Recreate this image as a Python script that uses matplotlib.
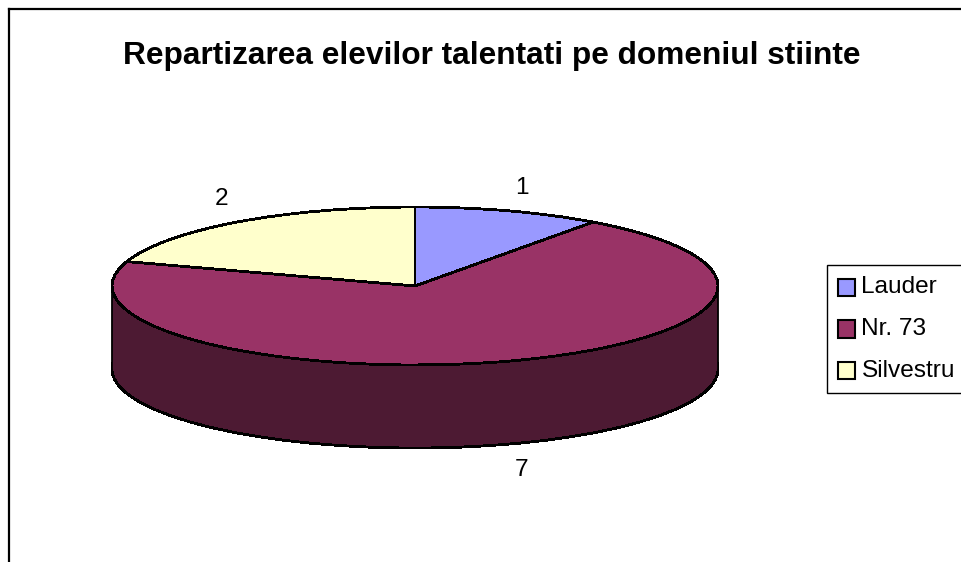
#!/usr/bin/env python3
import matplotlib
matplotlib.use('Agg')
import matplotlib.pyplot as plt
from matplotlib.lines import Line2D
from matplotlib.patches import Ellipse, Rectangle

plt.rcParams['font.family'] = ['Liberation Sans', 'DejaVu Sans']

TITLE = 'Repartizarea elevilor talentati pe domeniul stiinte'
schools = ['Lauder', 'Nr. 73', 'Silvestru']
students = [1, 7, 2]
colors = ['#9999FF', '#993366', '#FFFFCC']
WALL = '#4D1A33'

W, H = 962, 562
CX, CY = 415, 286  # pie centre in pixels
RX, RY = 303, 79  # ellipse radii in pixels
DEPTH = 83 / RY
LW = 1.3


def px(x, y):
    return x / W, 1 - y / H


fig = plt.figure(figsize=(W / 100, H / 100), dpi=100)
ax = fig.add_axes([0, 0, 1, 1])

# side wall: an ellipse shifted down, joined with a rectangle
ax.add_patch(Ellipse((0, -DEPTH), 2, 2, facecolor=WALL, edgecolor='black', lw=LW, antialiased=False))
ax.add_patch(Rectangle((-1, -DEPTH), 2, DEPTH, facecolor=WALL, edgecolor='none', zorder=5))
ax.plot([-1, -1], [-DEPTH, 0], color='black', lw=LW, zorder=6)
ax.plot([1, 1], [-DEPTH, 0], color='black', lw=LW, zorder=6)

wedges, _ = ax.pie(students, colors=colors, startangle=90, counterclock=False,
                   wedgeprops={'edgecolor': 'black', 'linewidth': LW, 'zorder': 7, 'antialiased': False})

# squash the circle into the ellipse of the tilted pie
ax.set_aspect('auto')
ax.set_xlim(-CX / RX, (W - CX) / RX)
ax.set_ylim((CY - H) / RY, CY / RY)
ax.axis('off')

fig.text(*px(492, 56), TITLE, fontsize=22.8, fontweight='bold', ha='center', va='center')

label_pos = [(522, 188), (522, 470), (222, 199)]
for value, (x, y) in zip(students, label_pos):
    fig.text(*px(x, y), str(value), fontsize=17.6, ha='center', va='center')

leg = ax.legend(wedges, schools, loc='upper left', bbox_to_anchor=px(827, 265),
                bbox_transform=fig.transFigure, fontsize=17.6, fancybox=False, framealpha=1,
                edgecolor='black', borderaxespad=0, borderpad=0.46, handlelength=0.7,
                handleheight=0.7, handletextpad=0.25, labelspacing=0.8)
leg.get_frame().set_linewidth(1.0)
leg.set_zorder(10)
for handle in leg.legend_handles:
    handle.set_y(handle.get_y() - 1.8)  # swatches sit a bit lower than the text
    handle.set_linewidth(1.5)

# outer chart border, only left and top fall inside the picture
fig.add_artist(Line2D([9 / W, 9 / W], [0, 1 - 9 / H], color='black', lw=1.6))
fig.add_artist(Line2D([9 / W, 1], [1 - 9 / H, 1 - 9 / H], color='black', lw=1.6))

fig.savefig('out.png', dpi=100)
